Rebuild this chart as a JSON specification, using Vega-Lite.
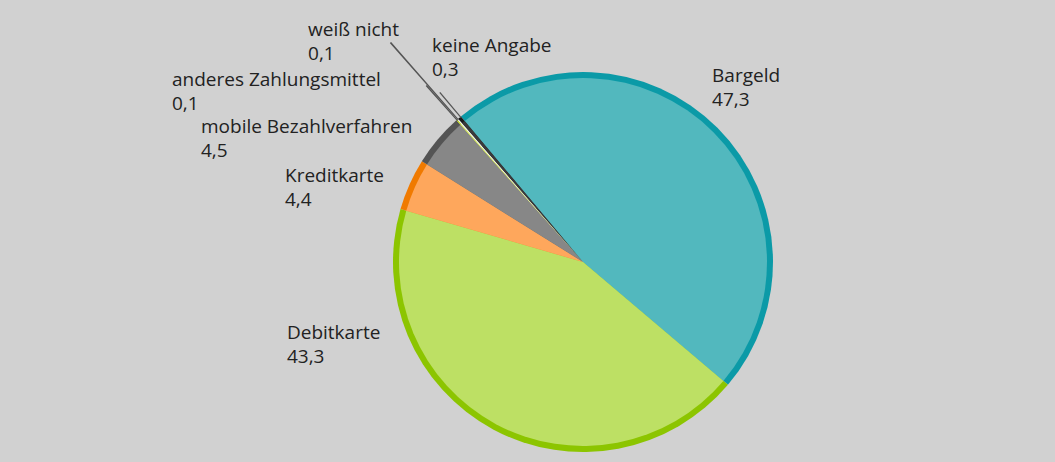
{
  "$schema": "https://vega.github.io/schema/vega-lite/v6.json",
  "width": 944,
  "height": 400,
  "autosize": {"type": "none"},
  "padding": {"left": 111, "top": 62, "right": 0, "bottom": 0},
  "background": "#d1d1d1",
  "config": {"view": {"stroke": null}, "text": {"font": "Open Sans", "fontSize": 19, "fontWeight": 500, "lineHeight": 24, "color": "#222222"}},
  "data": {
    "values": [
      {"category": "Bargeld", "value": 47.3},
      {"category": "Debitkarte", "value": 43.3},
      {"category": "Kreditkarte", "value": 4.4},
      {"category": "mobile Bezahlverfahren", "value": 4.5},
      {"category": "anderes Zahlungsmittel", "value": 0.1},
      {"category": "weiß nicht", "value": 0.1},
      {"category": "keine Angabe", "value": 0.3}
    ]
  },
  "transform": [
    {"window": [{"op": "row_number", "as": "n"}]},
    {"stack": "value", "groupby": [], "sort": [{"field": "n", "order": "ascending"}], "as": ["v0", "v1"]},
    {"calculate": "datum.category + '\\n' + replace(format(datum.value, '.1f'), '.', ',')", "as": "label"}
  ],
  "encoding": {
    "theta": {"field": "v0", "type": "quantitative", "stack": null, "scale": {"domain": [0, 100], "range": [-0.6981, 5.5851]}}
  },
  "layer": [
    {
      "mark": {"type": "arc", "radius": 190},
      "encoding": {
        "theta2": {"field": "v1"},
        "color": {"field": "category", "type": "nominal", "legend": null,
          "scale": {"domain": ["Bargeld", "Debitkarte", "Kreditkarte", "mobile Bezahlverfahren", "anderes Zahlungsmittel", "weiß nicht", "keine Angabe"],
                    "range": ["#0b9aa7", "#8cc500", "#f07a00", "#545454", "#b8d200", "#f2f2f2", "#1a1a1a"]}}
      }
    },
    {
      "mark": {"type": "arc", "radius": 184},
      "encoding": {
        "theta2": {"field": "v1"},
        "fill": {"field": "category", "type": "nominal", "legend": null,
          "scale": {"domain": ["Bargeld", "Debitkarte", "Kreditkarte", "mobile Bezahlverfahren", "anderes Zahlungsmittel", "weiß nicht", "keine Angabe"],
                    "range": ["#52b8be", "#bde064", "#fea75c", "#878787", "#d6e86a", "#f2f2f2", "#3a3a3a"]}}
      }
    },
    {
      "transform": [{"filter": "datum.category === 'anderes Zahlungsmittel'"}],
      "mark": {"type": "arc", "radius": 236, "radius2": 189, "color": "#555555"},
      "encoding": {"theta2": {"field": "v1"}}
    },
    {
      "transform": [{"filter": "datum.category === 'weiß nicht'"}],
      "mark": {"type": "arc", "radius": 292, "radius2": 189, "color": "#555555"},
      "encoding": {"theta2": {"field": "v1"}}
    },
    {
      "transform": [{"filter": "datum.category === 'keine Angabe'"}],
      "mark": {"type": "arc", "radius": 222, "radius2": 189, "color": "#555555", "thetaOffset": 0.0126},
      "encoding": {"theta2": {"field": "v1"}}
    },
    {
      "transform": [{"filter": "datum.category === 'Bargeld'"}],
      "mark": {"type": "text", "radius": 200, "align": "left", "baseline": "alphabetic", "dx": 257.6, "dy": -26.8, "lineBreak": "\n"},
      "encoding": {"text": {"field": "label"}}
    },
    {
      "transform": [{"filter": "datum.category === 'Debitkarte'"}],
      "mark": {"type": "text", "radius": 200, "align": "left", "baseline": "alphabetic", "dx": -448.6, "dy": -52.3, "lineBreak": "\n"},
      "encoding": {"text": {"field": "label"}}
    },
    {
      "transform": [{"filter": "datum.category === 'Kreditkarte'"}],
      "mark": {"type": "text", "radius": 200, "align": "left", "baseline": "alphabetic", "dx": -105.9, "dy": -24.3, "lineBreak": "\n"},
      "encoding": {"text": {"field": "label"}}
    },
    {
      "transform": [{"filter": "datum.category === 'mobile Bezahlverfahren'"}],
      "mark": {"type": "text", "radius": 200, "align": "left", "baseline": "alphabetic", "dx": -212.4, "dy": -23, "lineBreak": "\n"},
      "encoding": {"text": {"field": "label"}}
    },
    {
      "transform": [{"filter": "datum.category === 'anderes Zahlungsmittel'"}],
      "mark": {"type": "text", "radius": 200, "align": "left", "baseline": "alphabetic", "dx": -277.7, "dy": -26.9, "lineBreak": "\n"},
      "encoding": {"text": {"field": "label"}}
    },
    {
      "transform": [{"filter": "datum.category === 'weiß nicht'"}],
      "mark": {"type": "text", "radius": 200, "align": "left", "baseline": "alphabetic", "dx": -142.6, "dy": -76.1, "lineBreak": "\n"},
      "encoding": {"text": {"field": "label"}}
    },
    {
      "transform": [{"filter": "datum.category === 'keine Angabe'"}],
      "mark": {"type": "text", "radius": 200, "align": "left", "baseline": "alphabetic", "dx": -19.6, "dy": -59.2, "lineBreak": "\n"},
      "encoding": {"text": {"field": "label"}}
    }
  ]
}
